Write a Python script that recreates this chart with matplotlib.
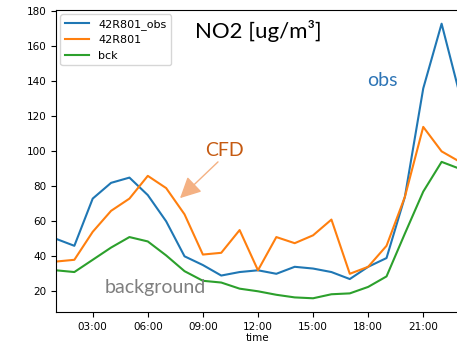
import matplotlib
matplotlib.use("Agg")
import matplotlib.pyplot as plt

# hourly NO2 at station 42R801 (hours 01..23)
hours = list(range(1, 24))
obs = [50, 46, 73, 82, 85, 75, 60, 40, 35, 29, 31, 32, 30, 34, 33, 31, 27, 34, 39, 74, 136, 173, 132]
cfd = [37, 38, 54, 66, 73, 86, 79, 64, 41, 42, 55, 32, 51, 47.5, 52, 61, 30, 34, 46, 74, 114, 100, 94]
bck = [32, 31, 38, 45, 51, 48.5, 40.5, 31.5, 26, 25, 21.5, 20, 18, 16.5, 16, 18.3, 18.8, 22.5, 28.5, 53, 77, 94, 90]
xtick_hours = [3, 6, 9, 12, 15, 18, 21]
xtick_labels = [f"{h:02d}:00" for h in xtick_hours]

fig = plt.figure(figsize=(4.57, 3.44), dpi=100)
ax = fig.add_axes([0.1225, 0.093, 0.884, 0.878])

ax.plot(hours, obs, color="#1f77b4", linewidth=1.5, label="42R801_obs")
ax.plot(hours, cfd, color="#ff7f0e", linewidth=1.5, label="42R801")
ax.plot(hours, bck, color="#2ca02c", linewidth=1.5, label="bck")

ax.set_xlim(1, 23)
ax.set_ylim(8.15, 180.85)
ax.set_xticks(xtick_hours)
ax.set_xticklabels(xtick_labels)
ax.set_yticks(range(20, 181, 20))
ax.tick_params(labelsize=7.5)
ax.set_xlabel("time", fontsize=7.5, labelpad=1)

ax.legend(loc="upper left", fontsize=8, handlelength=2.2, borderaxespad=0.4)

# annotations added on top of the plot
ax.text(0.345, 0.93, "NO2 [ug/m³]", transform=ax.transAxes, fontsize=16,
        family="Lato", color="black", va="center", ha="left")
ax.text(0.77, 0.768, "obs", transform=ax.transAxes, fontsize=14,
        family="Lato", color="#2e75b6", va="center", ha="left")
ax.text(0.37, 0.536, "CFD", transform=ax.transAxes, fontsize=14,
        family="Lato", color="#c55a11", va="center", ha="left")
ax.text(0.12, 0.082, "background", transform=ax.transAxes, fontsize=14,
        family="Lato", color="#7f7f7f", va="center", ha="left")
ax.annotate("", xy=(0.307, 0.377), xytext=(0.401, 0.497), xycoords="axes fraction",
            arrowprops=dict(arrowstyle="-|>,head_length=0.8,head_width=0.4",
                            mutation_scale=16, shrinkA=0, shrinkB=0,
                            color="#f4b183", linewidth=1))

fig.savefig("out.png", dpi=100)
